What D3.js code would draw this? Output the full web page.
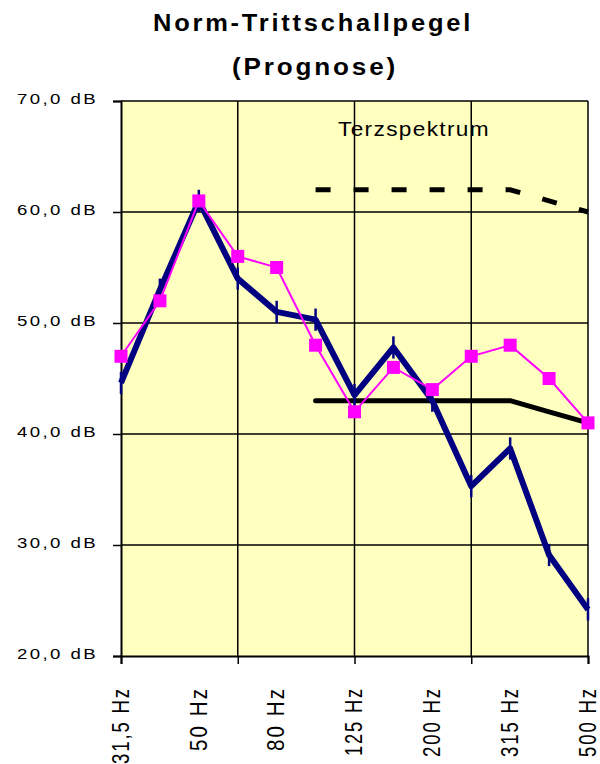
<!DOCTYPE html>
<html>
<head>
<meta charset="utf-8">
<script src="https://cdn.jsdelivr.net/npm/d3@7"></script>
<style>
  html, body { margin: 0; padding: 0; background: #ffffff; }
  svg { display: block; font-family: Arial, "Liberation Sans", sans-serif; }
</style>
</head>
<body>
<svg id="chart" width="600" height="764"></svg>
<script>
// ---- data ----
const categories = ["31,5 Hz", "40 Hz", "50 Hz", "63 Hz", "80 Hz", "100 Hz", "125 Hz",
                    "160 Hz", "200 Hz", "250 Hz", "315 Hz", "400 Hz", "500 Hz"];
const labelledCategories = ["31,5 Hz", "50 Hz", "80 Hz", "125 Hz", "200 Hz", "315 Hz", "500 Hz"];
const gridCategories = ["31,5 Hz", "63 Hz", "125 Hz", "250 Hz", "500 Hz"];
const prognose = [44.6, 53.0, 61.0, 54.0, 51.0, 50.3, 43.5, 47.8, 43.0, 35.3, 38.7, 29.1, 24.2];
const prognoseError = [1, 1, 1, 1, 1, 1, 1, 1, 1, 1, 1, 1, 1];
const measured = [47, 52, 61, 56, 55, 48, 42, 46, 44, 47, 48, 45, 41];
const referenceCurve = [null, null, null, null, null, 43, 43, 43, 43, 43, 43, 42, 41];
const shiftedReference = [null, null, null, null, null, 62, 62, 62, 62, 62, 62, 61, 60];
const yTicks = [20, 30, 40, 50, 60, 70];
const yTickLabels = ["20,0 dB", "30,0 dB", "40,0 dB", "50,0 dB", "60,0 dB", "70,0 dB"];
const titleLines = ["Norm-Trittschallpegel", "(Prognose)"];
const annotation = "Terzspektrum";

// ---- layout ----
const svg = d3.select("#chart");
const L = 121, R = 588, T = 101, B = 656;

const x = d3.scalePoint().domain(categories).range([L, R]);
const y = d3.scaleLinear().domain([20, 70]).range([B, T]);

svg.append("rect").attr("width", 600).attr("height", 764).attr("fill", "#ffffff");

// title
svg.append("text")
  .attr("x", 153).attr("y", 31)
  .attr("font-size", 23).attr("font-weight", "bold")
  .attr("letter-spacing", 2.5)
  .attr("textLength", 320).attr("lengthAdjust", "spacingAndGlyphs")
  .text(titleLines[0]);
svg.append("text")
  .attr("x", 232).attr("y", 75)
  .attr("font-size", 23).attr("font-weight", "bold")
  .attr("letter-spacing", 2.5)
  .attr("textLength", 166).attr("lengthAdjust", "spacingAndGlyphs")
  .text(titleLines[1]);

// plot background
svg.append("rect")
  .attr("x", L).attr("y", T).attr("width", R - L).attr("height", B - T)
  .attr("fill", "#FFFFC0");

// annotation (under grid lines)
svg.append("text")
  .attr("x", 338).attr("y", 136)
  .attr("font-size", 20)
  .attr("letter-spacing", 1.2)
  .attr("textLength", 152).attr("lengthAdjust", "spacingAndGlyphs")
  .attr("fill", "#000")
  .text(annotation);

// grid lines
svg.append("g").selectAll("line").data(yTicks.filter(d => d > 20)).join("line")
  .attr("x1", L).attr("x2", R)
  .attr("y1", d => y(d)).attr("y2", d => y(d))
  .attr("stroke", "#000").attr("stroke-width", 1.5);
svg.append("g").selectAll("line").data(gridCategories.slice(1)).join("line")
  .attr("x1", d => x(d)).attr("x2", d => x(d))
  .attr("y1", T).attr("y2", B)
  .attr("stroke", "#000").attr("stroke-width", 1.5);

// y axis
const yAxis = d3.axisLeft(y).tickValues(yTicks).tickSize(8)
  .tickFormat((d, i) => yTickLabels[i]);
const gy = svg.append("g").attr("transform", `translate(${L},0)`).call(yAxis);
gy.select(".domain").attr("stroke", "#000").attr("stroke-width", 2);
gy.selectAll(".tick line").attr("stroke", "#000").attr("stroke-width", 1.5);
gy.selectAll(".tick text").remove();
svg.append("g").selectAll("text").data(yTicks).join("text")
  .attr("x", 17).attr("y", d => y(d) + 2.5)
  .attr("font-size", 15.5).attr("fill", "#000")
  .attr("letter-spacing", 2)
  .attr("textLength", 81).attr("lengthAdjust", "spacingAndGlyphs")
  .text((d, i) => yTickLabels[i]);

// x axis
const xAxis = d3.axisBottom(x).tickValues(gridCategories).tickSize(8).tickFormat("");
const gx = svg.append("g").attr("transform", `translate(0,${B})`).call(xAxis);
gx.select(".domain").attr("stroke", "#000").attr("stroke-width", 2);
gx.selectAll(".tick line").attr("stroke", "#000").attr("stroke-width", 1.5);

const labelLen = { "31,5 Hz": 77, "50 Hz": 64, "80 Hz": 64, "125 Hz": 69, "200 Hz": 70, "315 Hz": 70, "500 Hz": 70 };
svg.append("g").selectAll("text").data(labelledCategories).join("text")
  .attr("transform", d => `translate(${x(d)},687) rotate(-90) scale(1,1.15)`)
  .attr("text-anchor", "end")
  .attr("dy", "0.34em")
  .attr("font-size", 20)
  .attr("letter-spacing", 2)
  .attr("fill", "#000")
  .attr("textLength", d => labelLen[d]).attr("lengthAdjust", "spacingAndGlyphs")
  .text(d => d);

// series
const lineGen = d3.line()
  .defined(d => d[1] !== null)
  .x(d => x(d[0])).y(d => y(d[1]));

const pairs = arr => categories.map((c, i) => [c, arr[i]]);

// shifted reference (dashed)
svg.append("path")
  .datum(pairs(shiftedReference))
  .attr("d", lineGen)
  .attr("fill", "none").attr("stroke", "#000").attr("stroke-width", 5)
  .attr("stroke-dasharray", "15,23");

// reference curve (solid)
svg.append("path")
  .datum(pairs(referenceCurve))
  .attr("d", lineGen)
  .attr("fill", "none").attr("stroke", "#000").attr("stroke-width", 5)
  .attr("stroke-linecap", "round").attr("stroke-linejoin", "round");

// prognose (navy) with error ticks
svg.append("path")
  .datum(pairs(prognose))
  .attr("d", lineGen)
  .attr("fill", "none").attr("stroke", "#000080").attr("stroke-width", 6)
  .attr("stroke-linejoin", "round");
svg.append("g").selectAll("line").data(pairs(prognose)).join("line")
  .attr("x1", d => x(d[0])).attr("x2", d => x(d[0]))
  .attr("y1", (d, i) => y(d[1] + prognoseError[i]))
  .attr("y2", (d, i) => y(d[1] - prognoseError[i]))
  .attr("stroke", "#000080").attr("stroke-width", 2.5);

// measured (magenta squares)
svg.append("path")
  .datum(pairs(measured))
  .attr("d", lineGen)
  .attr("fill", "none").attr("stroke", "#FF00FF").attr("stroke-width", 2);
svg.append("g").selectAll("rect").data(pairs(measured)).join("rect")
  .attr("x", d => x(d[0]) - 6.5).attr("y", d => y(d[1]) - 6.5)
  .attr("width", 13).attr("height", 13)
  .attr("fill", "#FF00FF");
</script>
</body>
</html>
